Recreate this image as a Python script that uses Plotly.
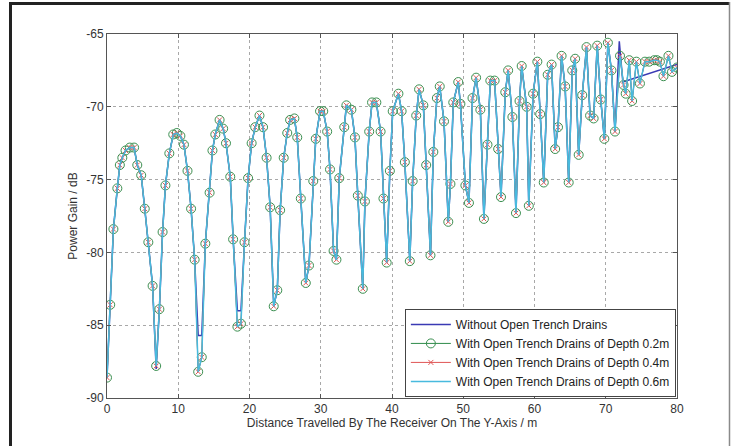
import plotly.graph_objects as go

# ---- data ----
dist_m = [0.0, 0.45, 0.9, 1.45, 1.8, 2.15, 2.6, 3.2, 3.8, 4.25, 4.8, 5.3, 5.8, 6.4, 6.9, 7.35, 7.8,
          8.2, 8.75, 9.3, 9.8, 10.3, 10.8, 11.3, 11.8, 12.3, 12.8, 13.3, 13.8, 14.4, 14.8, 15.2, 15.8,
          16.3, 16.7, 17.3, 17.7, 18.3, 18.8, 19.3, 19.8, 20.3, 20.8, 21.4, 21.9, 22.4, 22.9, 23.4,
          23.9, 24.3, 24.8, 25.3, 25.7, 26.3, 26.7, 27.2, 27.9, 28.35, 28.95, 29.3, 29.9, 30.35, 30.9,
          31.3, 31.8, 32.2, 32.6, 33.3, 33.6, 34.3, 34.8, 35.2, 35.9, 36.2, 36.8, 37.2, 37.8, 38.4,
          38.8, 39.25, 39.7, 40.1, 40.9, 41.35, 41.8, 42.5, 42.9, 43.4, 43.8, 44.4, 44.8, 45.4, 45.8,
          46.3, 46.7, 47.3, 47.9, 48.2, 48.6, 49.3, 49.6, 50.3, 50.8, 51.3, 51.8, 52.4, 52.9, 53.4,
          53.8, 54.4, 54.9, 55.3, 55.9, 56.3, 56.9, 57.4, 57.9, 58.2, 58.9, 59.2, 59.8, 60.4, 60.8,
          61.3, 61.85, 62.4, 62.9, 63.3, 63.8, 64.3, 64.8, 65.3, 65.7, 66.2, 66.7, 67.3, 67.8, 68.3,
          68.8, 69.3, 69.8, 70.3, 70.8, 71.3, 72.0, 72.5, 72.8, 73.3, 73.7, 74.3, 74.8, 75.5, 76.1,
          76.8, 77.2, 77.6, 78.1, 78.8, 79.3, 80.0]

gain_with_drains = [-88.6, -83.6, -78.4, -75.6, -74.0, -73.5, -73.0, -72.8, -72.8, -74.0, -74.7, -77.0,
                    -79.3, -82.3, -87.8, -83.9, -78.6, -75.4, -73.2, -71.9, -71.8, -72.0, -72.6, -74.4,
                    -77.0, -80.5, -88.2, -87.2, -79.4, -75.9, -73.0, -71.9, -70.9, -71.5, -72.5, -74.8,
                    -79.1, -85.1, -84.9, -79.3, -74.9, -72.5, -71.4, -70.6, -71.4, -73.5, -76.9, -83.7,
                    -82.6, -77.1, -73.5, -71.8, -70.9, -70.8, -72.1, -76.3, -82.1, -80.9, -75.1, -72.2,
                    -70.3, -70.3, -71.7, -74.3, -79.9, -80.5, -74.9, -71.4, -69.9, -70.2, -72.1, -76.1,
                    -82.5, -76.5, -71.7, -69.7, -69.7, -71.7, -76.3, -80.7, -74.4, -70.3, -69.1, -70.3,
                    -73.8, -80.6, -75.1, -70.6, -68.8, -69.9, -74.0, -80.2, -73.1, -69.4, -68.6, -71.0,
                    -77.9, -75.3, -69.7, -68.3, -69.8, -75.4, -76.6, -69.4, -68.0, -70.2, -77.7, -72.6,
                    -68.2, -68.2, -72.9, -76.2, -69.0, -67.5, -70.7, -77.3, -69.6, -67.2, -70.0, -76.8,
                    -69.1, -66.9, -70.5, -75.2, -67.8, -67.1, -72.9, -71.4, -66.5, -68.6, -75.2, -67.5,
                    -66.7, -73.3, -69.2, -65.9, -70.6, -70.8, -65.8, -69.5, -72.2, -65.6, -67.5, -71.7,
                    -66.5, -68.5, -69.1, -66.8, -69.6, -66.9, -68.4, -66.9, -66.9, -66.8, -66.8, -66.9,
                    -67.9, -66.5, -67.6, -67.3]

gain_depth_02 = gain_with_drains
gain_depth_04 = gain_with_drains
gain_depth_06 = gain_with_drains

dist_without = [0.0, 0.45, 0.9, 1.45, 1.8, 2.15, 2.6, 3.2, 3.8, 4.25, 4.8, 5.3, 5.8, 6.4, 6.9, 7.35, 7.8,
                8.2, 8.75, 9.3, 9.8, 10.3, 10.8, 11.3, 11.8, 12.3, 12.8, 13.3, 13.8, 14.4, 14.8, 15.2,
                15.8, 16.3, 16.7, 17.3, 17.7, 18.3, 18.8, 19.3, 19.8, 20.3, 20.8, 21.4, 21.9, 22.4, 22.9,
                23.4, 23.9, 24.3, 24.8, 25.3, 25.7, 26.3, 26.7, 27.2, 27.9, 28.35, 28.95, 29.3, 29.9,
                30.35, 30.9, 31.3, 31.8, 32.2, 32.6, 33.3, 33.6, 34.3, 34.8, 35.2, 35.9, 36.2, 36.8,
                37.2, 37.8, 38.4, 38.8, 39.25, 39.7, 40.1, 40.9, 41.35, 41.8, 42.5, 42.9, 43.4, 43.8,
                44.4, 44.8, 45.4, 45.8, 46.3, 46.7, 47.3, 47.9, 48.2, 48.6, 49.3, 49.6, 50.3, 50.8,
                51.3, 51.8, 52.4, 52.9, 53.4, 53.8, 54.4, 54.9, 55.3, 55.9, 56.3, 56.9, 57.4, 57.9,
                58.2, 58.9, 59.2, 59.8, 60.4, 60.8, 61.3, 61.85, 62.4, 62.9, 63.3, 63.8, 64.3, 64.8,
                65.3, 65.7, 66.2, 66.7, 67.3, 67.8, 68.3, 68.8, 69.3, 69.8, 70.3, 70.8, 71.3, 71.9,
                72.4, 80.0]

gain_without = [-88.6, -83.6, -78.4, -75.6, -74.0, -73.5, -73.0, -72.8, -72.8, -74.0, -74.7, -77.0,
                -79.3, -82.3, -88.0, -83.9, -78.6, -75.4, -73.2, -71.9, -71.8, -72.0, -72.6, -74.4,
                -77.0, -80.5, -85.7, -85.7, -79.4, -75.9, -73.0, -71.9, -70.9, -71.5, -72.5, -74.8,
                -79.1, -84.0, -84.0, -79.3, -74.9, -72.5, -71.4, -70.6, -71.4, -73.5, -76.9, -83.7,
                -82.6, -77.1, -73.5, -71.8, -70.9, -70.8, -72.1, -76.3, -82.1, -80.9, -75.1, -72.2,
                -70.3, -70.3, -71.7, -74.3, -79.9, -80.5, -74.9, -71.4, -69.9, -70.2, -72.1, -76.1,
                -82.5, -76.5, -71.7, -69.7, -69.7, -71.7, -76.3, -80.7, -74.4, -70.3, -69.1, -70.3,
                -73.8, -80.6, -75.1, -70.6, -68.8, -69.9, -74.0, -80.2, -73.1, -69.4, -68.6, -71.0,
                -77.9, -75.3, -69.7, -68.3, -69.8, -75.4, -76.6, -69.4, -68.0, -70.2, -77.7, -72.6,
                -68.2, -68.2, -72.9, -76.2, -69.0, -67.5, -70.7, -77.3, -69.6, -67.2, -70.0, -76.8,
                -69.1, -66.9, -70.5, -75.2, -67.8, -67.1, -72.9, -71.4, -66.5, -68.6, -75.2, -67.5,
                -66.7, -73.3, -69.2, -65.9, -70.6, -70.8, -65.8, -69.5, -72.2, -65.6, -67.5, -71.7,
                -65.5, -68.3, -67.1]

series_names = ["Without Open Trench Drains",
                "With Open Trench Drains of Depth 0.2m",
                "With Open Trench Drains of Depth 0.4m",
                "With Open Trench Drains of Depth 0.6m"]

x_tick_values = [0, 10, 20, 30, 40, 50, 60, 70, 80]
x_tick_labels = ["0", "10", "20", "30", "40", "50", "60", "70", "80"]
y_tick_values = [-90, -85, -80, -75, -70, -65]
y_tick_labels = ["-90", "-85", "-80", "-75", "-70", "-65"]

FONT = "Liberation Sans, Arial, sans-serif"

fig = go.Figure()
fig.add_trace(go.Scatter(x=dist_without, y=gain_without, mode="lines", name=series_names[0],
                         line=dict(color="#3a3ab4", width=1.5)))
fig.add_trace(go.Scatter(x=dist_m, y=gain_depth_02, mode="lines+markers", name=series_names[1],
                         line=dict(color="#2e8b4a", width=1),
                         marker=dict(symbol="circle-open", size=9, color="#3a8f50",
                                     line=dict(width=1, color="#3a8f50"))))
fig.add_trace(go.Scatter(x=dist_m, y=gain_depth_04, mode="lines+markers", name=series_names[2],
                         line=dict(color="#e05555", width=1),
                         marker=dict(symbol="x-thin-open", size=5, color="#e05555",
                                     line=dict(width=1, color="#e05555"))))
fig.add_trace(go.Scatter(x=dist_m, y=gain_depth_06, mode="lines", name=series_names[3],
                         line=dict(color="#48bade", width=1.5)))

axis_common = dict(showline=True, linecolor="#555555", linewidth=1, mirror="ticks",
                   ticks="inside", ticklen=4, tickcolor="#555555",
                   showgrid=True, gridcolor="#a8a8a8", griddash="dot", gridwidth=1,
                   zeroline=False, tickfont=dict(family=FONT, size=12, color="#333333"))

fig.update_xaxes(range=[0, 80], tickvals=x_tick_values, ticktext=x_tick_labels,
                 title=dict(text="Distance Travelled By The Receiver On The Y-Axis / m",
                            font=dict(family=FONT, size=12, color="#333333"), standoff=3),
                 **axis_common)
fig.update_yaxes(range=[-90, -65], tickvals=y_tick_values, ticktext=y_tick_labels,
                 title=dict(text="Power Gain / dB",
                            font=dict(family=FONT, size=12, color="#333333"), standoff=6),
                 **axis_common)

# outer frame of the figure image
frame = [
    dict(x0=-0.1693, x1=1.0930, y0=1.0838, y1=1.0838, color="#222222", w=3),
    dict(x0=-0.1693, x1=-0.1693, y0=1.0880, y1=-0.20, color="#222222", w=3),
    dict(x0=1.0921, x1=1.0921, y0=1.0880, y1=-0.20, color="#8a8a8a", w=1.5),
]
for f in frame:
    fig.add_shape(type="line", xref="paper", yref="paper", x0=f["x0"], x1=f["x1"],
                  y0=f["y0"], y1=f["y1"], line=dict(color=f["color"], width=f["w"]), layer="above")

fig.update_layout(
    width=736, height=446,
    margin=dict(l=107, r=59, t=34, b=48),
    paper_bgcolor="white", plot_bgcolor="white",
    font=dict(family=FONT, size=12, color="#333333"),
    legend=dict(x=0.998, y=0.003, xanchor="right", yanchor="bottom",
                bgcolor="white", bordercolor="#444444", borderwidth=1,
                font=dict(family=FONT, size=12, color="#222222"),
                tracegroupgap=0, itemwidth=40),
    showlegend=True,
)

fig.write_html("out.html")
